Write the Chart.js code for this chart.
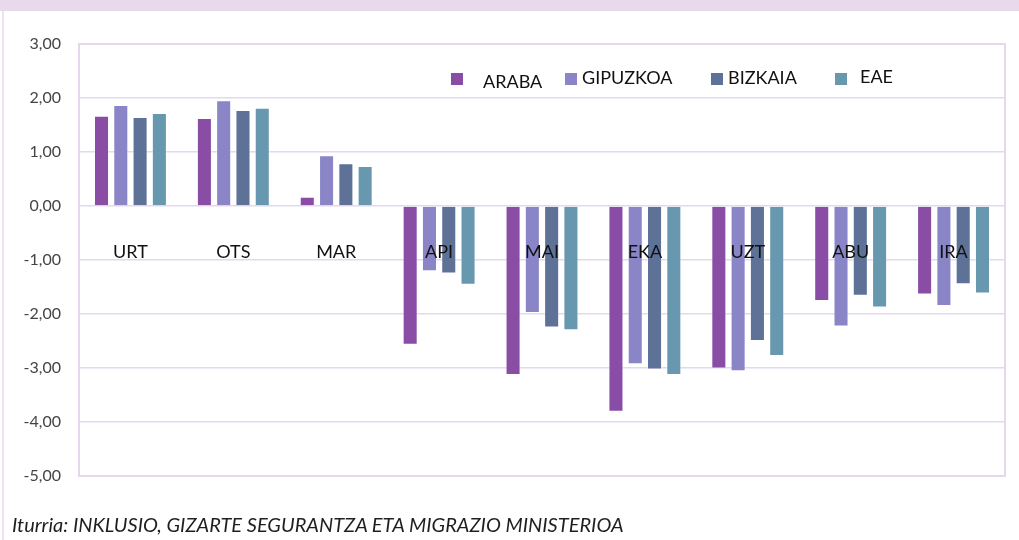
<!DOCTYPE html>
<html>
<head>
<meta charset="utf-8">
<script src="https://cdn.jsdelivr.net/npm/chart.js@4/dist/chart.umd.min.js"></script>
<style>
  html, body { margin: 0; padding: 0; background: #ffffff; }
  #wrap { position: relative; width: 1019px; height: 540px; overflow: hidden; background: #fff; }
  #band { position: absolute; left: 0; top: 0; width: 1019px; height: 11px; background: #e8daec; }
  #lborder { position: absolute; left: 2px; top: 11px; width: 2px; height: 529px; background: #ece2f1; }
  #cv { position: absolute; left: 0; top: 0; }
  #src { position: absolute; left: 12px; top: 512px; font-family: Lato, sans-serif; font-style: italic; font-size: 20px; color: #1f1f1f; white-space: nowrap; }
</style>
</head>
<body>
<div id="wrap">
  <div id="band"></div>
  <div id="lborder"></div>
  <canvas id="cv" width="1019" height="540"></canvas>
  <div id="src">Iturria: INKLUSIO, GIZARTE SEGURANTZA ETA MIGRAZIO MINISTERIOA</div>
</div>
<script>
const categories = ["URT", "OTS", "MAR", "API", "MAI", "EKA", "UZT", "ABU", "IRA"];
const seriesNames = ["ARABA", "GIPUZKOA", "BIZKAIA", "EAE"];
const araba    = [1.67, 1.63, 0.17, -2.57, -3.13, -3.81, -3.01, -1.76, -1.64];
const gipuzkoa = [1.87, 1.96, 0.94, -1.21, -1.98, -2.93, -3.06, -2.23, -1.85];
const bizkaia  = [1.65, 1.78, 0.79, -1.25, -2.25, -3.03, -2.50, -1.66, -1.45];
const eae      = [1.72, 1.82, 0.74, -1.46, -2.30, -3.13, -2.78, -1.88, -1.62];
const yMin = -5, yMax = 3, yStep = 1;

const colors = ["#8a4da6", "#8985c6", "#5e7197", "#6898b0"];
const seriesValues = [araba, gipuzkoa, bizkaia, eae];

// legend layout (pixel positions of swatch left edge, text left edge, text center y)
const legendPos = [
  { sx: 451, tx: 483, ty: 82 },
  { sx: 565, tx: 582, ty: 78 },
  { sx: 711, tx: 728, ty: 78 },
  { sx: 835, tx: 860, ty: 77 }
];

const frame = {
  id: 'frame',
  beforeDatasetsDraw(chart) {
    const { ctx, chartArea: a } = chart;
    ctx.save();
    ctx.strokeStyle = '#e4d8ee';
    ctx.lineWidth = 2;
    ctx.strokeRect(a.left, a.top, a.right - a.left, a.bottom - a.top);
    ctx.restore();
  }
};

const legendPlugin = {
  id: 'customLegend',
  afterDraw(chart) {
    const ctx = chart.ctx;
    ctx.save();
    ctx.font = '18px Lato, sans-serif';
    ctx.textBaseline = 'middle';
    chart.data.datasets.forEach((ds, i) => {
      const p = legendPos[i];
      ctx.fillStyle = ds.backgroundColor;
      ctx.fillRect(p.sx, 73, 12, 12);
      ctx.fillStyle = '#111';
      ctx.fillText(ds.label, p.tx, p.ty);
    });
    ctx.restore();
  }
};

new Chart(document.getElementById('cv'), {
  type: 'bar',
  data: {
    labels: categories,
    datasets: seriesNames.map((n, i) => ({
      label: n,
      data: seriesValues[i],
      backgroundColor: colors[i],
      borderColor: 'rgba(255,255,255,0.35)',
      borderWidth: 1,
      categoryPercentage: 0.75,
      barPercentage: 0.78
    }))
  },
  options: {
    responsive: false,
    animation: false,
    layout: { padding: { left: 0, right: 14, top: 44, bottom: 64 } },
    plugins: { legend: { display: false }, tooltip: { enabled: false } },
    scales: {
      x: {
        position: { y: 0 },
        grid: { display: false, drawTicks: false },
        border: { display: false },
        ticks: { z: 1, color: '#111', font: { family: 'Lato', size: 18 }, padding: 35, maxRotation: 0 }
      },
      y: {
        min: yMin, max: yMax,
        afterFit(s) { s.width = 79; },
        grid: { color: '#e4d8ee', lineWidth: 1.5, drawTicks: false },
        border: { display: false },
        ticks: {
          stepSize: yStep, padding: 18, color: '#444',
          font: { family: 'Lato', size: 16 },
          callback: v => v.toFixed(2).replace('.', ',')
        }
      }
    }
  },
  plugins: [frame, legendPlugin]
});
</script>
</body>
</html>
